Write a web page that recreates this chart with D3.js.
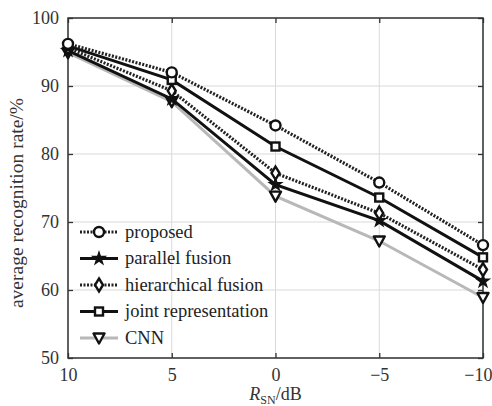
<!DOCTYPE html>
<html><head><meta charset="utf-8">
<script src="https://d3js.org/d3.v7.min.js"></script>
<style>body{margin:0;background:#fff;} svg{display:block;}</style>
</head><body>
<script>
const snr = [10, 5, 0, -5, -10];
const xTicks = [10, 5, 0, -5, -10];
const yTicks = [50, 60, 70, 80, 90, 100];
const seriesNames = ["proposed", "parallel fusion", "hierarchical fusion", "joint representation", "CNN"];
const proposed = [96.2, 92.0, 84.2, 75.8, 66.6];
const parallel = [95.2, 88.1, 75.5, 70.2, 61.3];
const hierarchical = [95.6, 89.3, 77.2, 71.3, 63.0];
const joint = [95.9, 90.9, 81.1, 73.6, 64.8];
const cnn = [94.9, 87.7, 73.8, 67.2, 58.9];

const W = 492, H = 406;
const m = {l: 68, r: 9, t: 18, b: 48};
const svg = d3.select("body").append("svg").attr("width", W).attr("height", H);
const x = d3.scaleLinear().domain([10, -10]).range([m.l, W - m.r]);
const y = d3.scaleLinear().domain([50, 100]).range([H - m.b, m.t]);
const font = "'Liberation Serif', 'Times New Roman', serif";

// grid
svg.append("g").selectAll("line.gx").data(xTicks).join("line")
  .attr("x1", d => x(d)).attr("x2", d => x(d)).attr("y1", y(50)).attr("y2", y(100))
  .attr("stroke", "#d9d9d9").attr("stroke-width", 1);
svg.append("g").selectAll("line.gy").data(yTicks).join("line")
  .attr("y1", d => y(d)).attr("y2", d => y(d)).attr("x1", x(10)).attr("x2", x(-10))
  .attr("stroke", "#d9d9d9").attr("stroke-width", 1);

// axes
function styleAxis(g){ g.select(".domain").remove(); g.selectAll(".tick line").attr("stroke","#333").attr("stroke-width",1.3); g.selectAll("text").style("font-family", font).style("font-size", "18px").attr("fill","#333"); }
const xb = svg.append("g").attr("transform", `translate(0,${y(50)})`)
  .call(d3.axisBottom(x).tickValues(xTicks).tickSize(-5).tickPadding(10).tickFormat(d => d < 0 ? "\u2212" + (-d) : d)).call(styleAxis);
xb.selectAll(".tick text").filter(d => d === -10).attr("text-anchor", "end").attr("x", 9);
svg.append("g").attr("transform", `translate(0,${y(100)})`)
  .call(d3.axisTop(x).tickValues(xTicks).tickSize(-5).tickFormat("")).call(styleAxis);
svg.append("g").attr("transform", `translate(${x(10)},0)`)
  .call(d3.axisLeft(y).tickValues(yTicks).tickSize(-5).tickPadding(9)).call(styleAxis);
svg.append("g").attr("transform", `translate(${x(-10)},0)`)
  .call(d3.axisRight(y).tickValues(yTicks).tickSize(-5).tickFormat("")).call(styleAxis);
svg.append("rect").attr("x", x(10)).attr("y", y(100)).attr("width", x(-10) - x(10)).attr("height", y(50) - y(100))
  .attr("fill", "none").attr("stroke", "#333").attr("stroke-width", 1.5);

// labels
svg.append("text").attr("transform", `translate(23,${(y(50)+y(100))/2 + 15}) rotate(-90)`)
  .attr("text-anchor", "middle").style("font-family", font).style("font-size", "19.5px").attr("fill", "#333")
  .text("average recognition rate/%");
const xl = svg.append("text").attr("x", x(0)).attr("y", 400).attr("text-anchor", "middle")
  .style("font-family", font).style("font-size", "18px").attr("fill", "#333");
xl.append("tspan").attr("font-style", "italic").text("R");
xl.append("tspan").style("font-size", "12px").attr("dy", 4).text("SN");
xl.append("tspan").attr("dy", -4).text("/dB");

// series
const data = [proposed, parallel, hierarchical, joint, cnn];
const styles = [
  {color: "#222", dash: "2,1.5", width: 3.2, marker: "circle"},
  {color: "#111", dash: null, width: 3, marker: "star"},
  {color: "#222", dash: "2,1.5", width: 3.2, marker: "diamond"},
  {color: "#111", dash: null, width: 3, marker: "square"},
  {color: "#b8b8b8", dash: null, width: 3, marker: "triangle"}
];
function drawMarker(g, kind, cx, cy){
  if (kind === "circle") {
    g.append("circle").attr("cx", cx).attr("cy", cy).attr("r", 5).attr("fill", "#fff").attr("stroke", "#111").attr("stroke-width", 2.4);
  } else if (kind === "star") {
    g.append("path").attr("d", d3.symbol(d3.symbolStar, 50)()).attr("transform", `translate(${cx},${cy})`).attr("fill", "#111").attr("stroke", "#111").attr("stroke-width", 1.2);
  } else if (kind === "diamond") {
    g.append("path").attr("d", "M0,-6.5L4,0L0,6.5L-4,0Z").attr("transform", `translate(${cx},${cy})`).attr("fill", "#fff").attr("stroke", "#111").attr("stroke-width", 2.4);
  } else if (kind === "square") {
    g.append("rect").attr("x", cx - 4).attr("y", cy - 4).attr("width", 8).attr("height", 8).attr("fill", "#fff").attr("stroke", "#111").attr("stroke-width", 2.4);
  } else {
    g.append("path").attr("d", "M-5.5,-4.5L5.5,-4.5L0,5.5Z").attr("transform", `translate(${cx},${cy})`).attr("fill", "#fff").attr("stroke", "#111").attr("stroke-width", 2.4).attr("stroke-linejoin", "round");
  }
}
const line = d3.line().x((d, i) => x(snr[i])).y(d => y(d));
const order = [4, 1, 2, 3, 0];
order.forEach(k => {
  const s = styles[k];
  svg.append("path").datum(data[k]).attr("d", line).attr("fill", "none")
    .attr("stroke", s.color).attr("stroke-width", s.width).attr("stroke-dasharray", s.dash);
});
order.forEach(k => {
  const g = svg.append("g");
  data[k].forEach((v, i) => drawMarker(g, styles[k].marker, x(snr[i]), y(v)));
});

// legend
const lg = svg.append("g");
seriesNames.forEach((name, k) => {
  const ly = 232 + k * 26.5;
  const s = styles[k];
  lg.append("line").attr("x1", 80).attr("x2", 118).attr("y1", ly).attr("y2", ly)
    .attr("stroke", s.color).attr("stroke-width", s.width).attr("stroke-dasharray", s.dash);
  drawMarker(lg, s.marker, 99, ly);
  lg.append("text").attr("x", 125).attr("y", ly + 5.5).style("font-family", font).style("font-size", "18.5px").attr("fill", "#222").text(name);
});
</script>
</body></html>
